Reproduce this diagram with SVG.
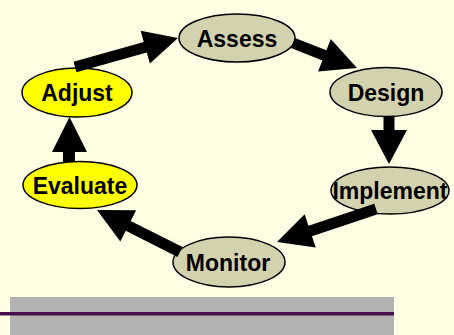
<svg xmlns="http://www.w3.org/2000/svg" width="454" height="335" viewBox="0 0 454 335">
  <style>
    .node ellipse { stroke: #000; stroke-width: 1.5; }
    .yellow ellipse { fill: #FFFF00; }
    .tan ellipse { fill: #D3D2AE; }
    .node text { font-family: "Liberation Sans", Arial, sans-serif; font-weight: bold; font-size: 23px; fill: #000; text-anchor: middle; }
    .arrow { fill: #000; stroke: none; }
  </style>

  <!-- page background -->
  <rect x="0" y="0" width="454" height="335" fill="#FFFFE3"/>

  <!-- footer band with rule -->
  <rect x="10" y="297" width="384" height="38" fill="#B3B3B3"/>
  <rect x="0" y="312" width="394" height="3.5" fill="#4A0E4A"/>

  <g id="assess" class="node tan">
    <ellipse cx="237" cy="38" rx="58" ry="24"/>
    <text x="237" y="47">Assess</text>
  </g>
  <g id="design" class="node tan">
    <ellipse cx="386" cy="92" rx="56" ry="24.5"/>
    <text x="386" y="101">Design</text>
  </g>
  <g id="implement" class="node tan">
    <ellipse cx="390" cy="190.5" rx="59" ry="23.5"/>
    <text x="390" y="199">Implement</text>
  </g>
  <g id="monitor" class="node tan">
    <ellipse cx="229" cy="262" rx="56" ry="25"/>
    <text x="228" y="271">Monitor</text>
  </g>
  <g id="evaluate" class="node yellow">
    <ellipse cx="80" cy="185" rx="57" ry="23.5"/>
    <text x="80" y="193.5">Evaluate</text>
  </g>
  <g id="adjust" class="node yellow">
    <ellipse cx="77" cy="92.5" rx="55" ry="24.5"/>
    <text x="77" y="100.5">Adjust</text>
  </g>

  <!-- block arrows between the stages -->
  <g id="connectors">
    <polygon class="arrow" points="76.49,72.29 146.76,52.50 149.88,63.57 178,38 140.66,30.85 143.78,41.92 73.51,61.71"/>
    <polygon class="arrow" points="291.0,48.12 322.4,60.38 318.03,71.56 357,68 330.77,38.96 326.4,50.14 295.0,37.88"/>
    <polygon class="arrow" points="394.5,116 394.5,130 407,130 389,164 371,130 383.5,130 383.5,116"/>
    <polygon class="arrow" points="374.26,203.78 308.46,225.71 304.67,214.33 277,242 315.73,247.53 311.94,236.15 377.74,214.22"/>
    <polygon class="arrow" points="182.48,247.09 130.71,220.89 136.13,210.18 97,210 120.33,241.42 125.75,230.71 177.52,256.91"/>
    <polygon class="arrow" points="75,162 75,152 87,152 69.5,117 52,152 63,152 63,162"/>
  </g>
</svg>
